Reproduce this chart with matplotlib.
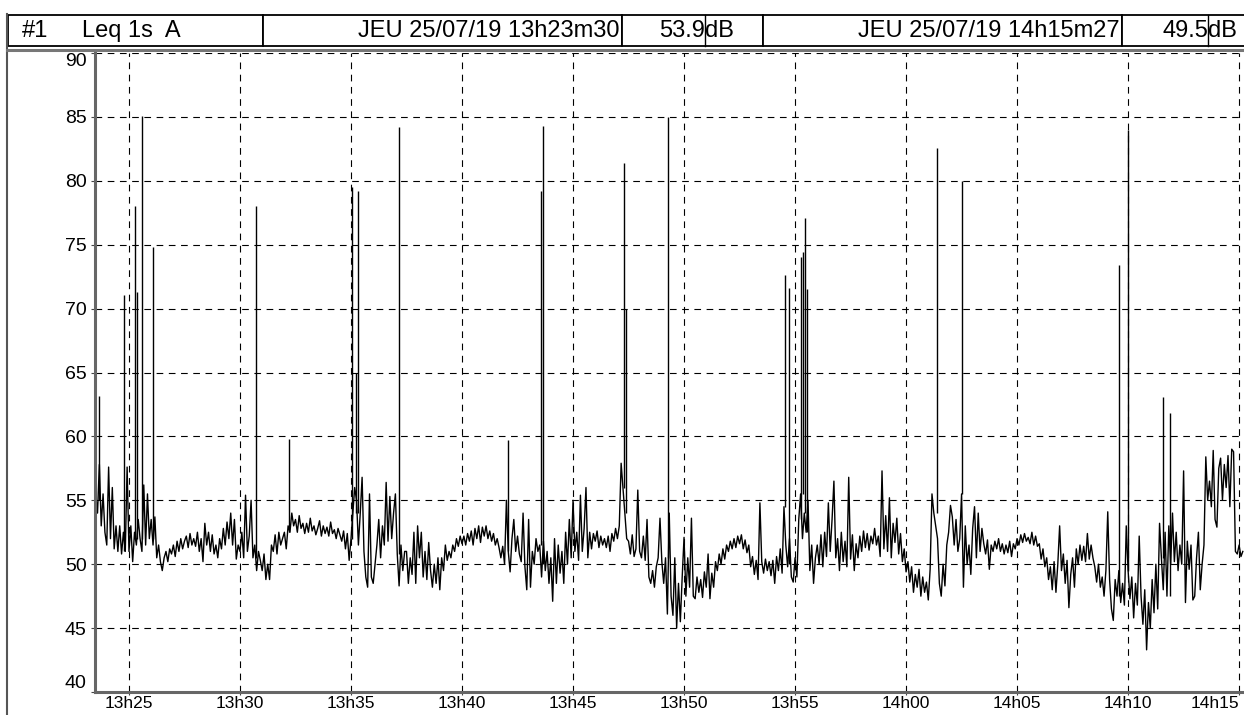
import numpy as np
import matplotlib.pyplot as plt
from matplotlib.patches import Rectangle
from matplotlib.lines import Line2D

# Leq 1s A, time in minutes after 13h00, one value every 5 s from 13h23m30
t_start = 23.5
t_step = 5 / 60.0
leq = [
    55.5, 54.0, 57.8, 53.0, 55.5, 52.5,  # 13h23m30
    51.5, 57.6, 52.0, 56.0, 51.2, 53.0,
    51.0, 53.0, 50.8, 52.5, 51.0, 57.6,
    51.0, 53.0, 50.2, 52.5, 51.5, 53.5,  # 13h25
    52.0, 51.0, 56.2, 51.5, 55.5, 52.0,
    53.5, 51.5, 53.7, 50.5, 51.5, 50.2,
    49.5, 50.5, 51.0, 50.2, 51.2, 50.8,
    51.5, 50.6, 51.8, 51.0, 52.0, 51.2,  # 13h27
    51.8, 52.2, 51.3, 52.4, 51.5, 52.0,
    51.4, 52.5, 51.0, 52.0, 50.2, 53.2,
    51.5, 52.5, 51.0, 52.3, 50.8, 51.5,
    50.5, 52.0, 51.2, 52.8, 51.5, 53.3,  # 13h29
    52.0, 54.0, 51.5, 53.5, 50.4, 51.5,
    51.0, 52.5, 50.5, 55.4, 51.0, 52.2,
    55.0, 50.5, 51.5, 49.5, 51.0, 50.3,
    49.5, 50.8, 48.8, 50.0, 48.8, 51.5,  # 13h31
    51.0, 52.3, 50.8, 52.5, 51.5, 52.0,
    52.5, 51.2, 53.0, 52.5, 54.0, 53.0,
    53.5, 52.5, 53.8, 52.8, 53.2, 52.4,
    53.2, 52.5, 53.6, 52.6, 53.0, 52.3,  # 13h33
    52.8, 53.4, 52.2, 53.0, 52.4, 52.9,
    52.2, 53.3, 52.4, 52.7, 52.0, 52.8,
    52.3, 51.8, 52.6, 51.2, 52.4, 50.3,
    52.0, 54.0, 56.0, 55.0, 51.5, 54.0,  # 13h35
    56.8, 51.0, 49.0, 48.2, 55.5, 49.0,
    48.5, 50.0, 51.5, 53.5, 50.5, 53.0,
    51.5, 56.4, 51.8, 55.3, 52.0, 54.0,
    55.5, 50.8, 48.3, 51.5, 49.5, 51.0,  # 13h37
    51.0, 48.5, 50.5, 49.2, 52.5, 48.5,
    53.0, 50.5, 52.5, 49.0, 51.0, 48.8,
    51.7, 49.5, 48.2, 50.0, 48.5, 50.5,
    48.0, 50.5, 49.5, 51.5, 50.3, 51.0,  # 13h39
    50.5, 51.5, 51.0, 52.0, 51.4, 52.2,
    51.6, 52.2, 51.5, 52.4, 51.8, 52.6,
    51.5, 52.8, 52.0, 53.0, 51.7, 52.9,
    52.2, 53.0, 52.0, 52.6, 51.8, 52.4,  # 13h41
    51.5, 52.0, 51.3, 50.5, 51.4, 50.0,
    55.0, 51.0, 49.4, 52.0, 53.5, 51.0,
    52.2, 50.8, 50.2, 54.0, 49.8, 48.0,
    53.5, 48.2, 51.0, 50.0, 52.0, 51.0,  # 13h43
    51.5, 49.0, 51.8, 49.5, 51.0, 48.5,
    50.5, 47.1, 52.0, 48.5, 51.5, 49.3,
    51.0, 48.5, 52.5, 50.0, 53.5, 50.5,
    55.0, 51.0, 52.5, 50.3, 55.4, 51.0,  # 13h45
    52.8, 56.0, 50.5, 52.5, 51.2, 52.4,
    51.8, 52.6, 51.3, 52.2, 51.5, 52.0,
    51.3, 52.2, 51.0, 52.4, 51.8, 52.8,
    52.0, 53.0, 57.9, 56.0, 54.0, 52.0,  # 13h47
    51.8, 50.8, 52.3, 50.6, 51.2, 55.8,
    51.0, 50.5, 52.2, 50.3, 53.5, 49.0,
    48.5, 49.5, 48.2, 49.8, 50.5, 53.6,
    50.2, 48.5, 50.5, 46.1, 54.0, 47.5,  # 13h49
    46.0, 50.5, 45.0, 48.5, 45.5, 49.0,
    52.1, 47.5, 50.5, 48.2, 53.6, 47.5,
    47.3, 49.0, 47.8, 48.8, 47.4, 49.4,
    48.2, 50.8, 47.3, 49.3, 48.2, 50.2,  # 13h51
    49.5, 50.8, 50.0, 51.2, 50.4, 51.5,
    51.0, 51.8, 51.2, 52.0, 51.3, 52.2,
    51.6, 52.3, 51.2, 51.9, 50.9, 51.5,
    49.8, 50.6, 49.2, 50.3, 48.8, 54.8,  # 13h53
    50.2, 49.3, 50.4, 49.5, 50.2, 49.1,
    50.3, 48.5, 50.6, 49.5, 51.2, 49.3,
    54.5, 51.5, 49.8, 52.0, 49.0, 48.6,
    50.5, 49.0, 53.5, 55.5, 52.0, 54.0,  # 13h55
    52.5, 55.0, 49.5, 51.5, 48.5, 50.5,
    51.5, 50.0, 52.3, 49.8, 52.5, 50.6,
    54.8, 51.0, 53.5, 56.5, 50.5, 52.0,
    49.5, 52.5, 50.2, 51.8, 49.8, 56.8,  # 13h57
    50.4, 52.3, 49.5, 51.6, 50.5, 52.2,
    51.0, 52.6, 51.3, 52.4, 51.1, 52.2,
    51.6, 52.8, 51.5, 52.2, 50.6, 57.3,
    51.2, 53.8, 51.0, 55.2, 50.5, 53.2,  # 13h59
    51.7, 53.6, 50.8, 52.4, 50.2, 51.2,
    49.4, 50.2, 48.6, 49.8, 47.8, 49.2,
    48.2, 49.6, 47.5, 49.0, 47.8, 48.6,
    47.2, 49.6, 55.5, 54.0, 53.0, 52.0,  # 14h01
    48.5, 47.5, 50.0, 48.3, 51.5, 52.5,
    54.6, 53.7, 51.5, 53.5, 51.0, 52.0,
    55.5, 48.2, 53.0, 50.0, 51.5, 49.2,
    52.8, 54.5, 50.5, 54.0, 51.0, 52.8,  # 14h03
    51.6, 50.8, 51.9, 49.6, 51.5, 51.0,
    51.8, 51.2, 52.0, 51.0, 51.6, 50.8,
    51.5, 50.9, 51.8, 50.6, 51.6, 51.2,
    52.0, 51.5, 52.3, 51.7, 52.4, 51.8,  # 14h05
    52.1, 51.6, 52.5, 51.5, 52.2, 51.4,
    51.6, 50.4, 51.2, 49.8, 50.5, 48.8,
    49.8, 48.0, 50.2, 47.8, 50.0, 53.0,
    49.5, 50.8, 48.5, 50.3, 46.6, 49.2,  # 14h07
    50.5, 48.2, 51.2, 50.0, 51.5, 50.3,
    51.4, 50.2, 52.4, 50.4, 51.5, 50.5,
    49.8, 48.6, 50.0, 48.2, 49.0, 47.5,
    49.5, 54.1, 48.8, 46.5, 45.6, 48.8,  # 14h09
    47.5, 49.5, 47.0, 48.5, 46.8, 53.0,
    49.5, 47.3, 49.0, 45.8, 48.5, 46.8,
    52.2, 47.5, 45.3, 48.0, 43.3, 47.0,
    45.0, 48.8, 46.2, 50.0, 46.5, 53.2,  # 14h11
    50.5, 48.0, 52.5, 47.5, 53.0, 50.0,
    54.0, 50.2, 52.5, 49.5, 51.5, 50.0,
    57.3, 47.0, 51.8, 49.6, 51.5, 47.2,
    47.5, 50.5, 52.5, 48.0, 50.0, 51.5,  # 14h13
    58.4, 55.0, 56.5, 54.5, 58.9, 53.5,
    52.9, 57.5, 58.3, 55.0, 57.8, 56.0,
    58.5, 54.5, 59.0, 58.8, 51.0, 50.8,
    51.5, 50.6, 51.0,                    # 14h15
]

# short events (single seconds) drawn as spikes
spike_t = [23.65, 24.775, 25.27, 25.36, 25.585, 26.08, 30.72, 32.21, 35.045, 35.225,
           35.315, 37.16, 42.07, 43.56, 43.65, 47.30, 47.39, 49.28, 54.55, 54.73,
           55.27, 55.36, 55.45, 55.54, 61.40, 62.52, 69.59, 70.0, 71.58, 71.9]
spike_peak = [63.2, 71.1, 78.0, 71.3, 85.1, 74.8, 78.0, 59.8, 79.5, 65.0,
              79.2, 84.2, 59.7, 79.2, 84.3, 81.4, 70.0, 85.0, 72.6, 71.6,
              74.0, 74.4, 77.1, 71.5, 82.6, 80.0, 73.4, 84.0, 63.1, 61.8]
spike_foot = [55.0, 51.0, 52.0, 52.0, 52.0, 52.0, 50.5, 52.5, 52.0, 54.0,
              54.0, 50.8, 51.0, 51.5, 50.0, 56.0, 54.0, 50.5, 54.5, 50.0,
              53.5, 55.5, 54.0, 52.5, 54.0, 55.5, 47.5, 49.5, 50.5, 47.5]

tick_min = [25, 30, 35, 40, 45, 50, 55, 60, 65, 70, 75]
tick_lab = ["13h25", "13h30", "13h35", "13h40", "13h45", "13h50",
            "13h55", "14h00", "14h05", "14h10", "14h15"]
db_ticks = [40, 45, 50, 55, 60, 65, 70, 75, 80, 85, 90]

plt.rcParams['font.family'] = ['Liberation Sans', 'DejaVu Sans']

W, H = 1244, 715
fig = plt.figure(figsize=(W / 100, H / 100), dpi=100)


def fx(x):
    return x / W


def fy(y):
    return 1 - y / H


ax = fig.add_axes([fx(95), fy(692), fx(1244 - 95), (692 - 53) / H])
t = t_start + np.arange(len(leq)) * t_step
ax.plot(t, leq, color='black', lw=1.0)
ax.vlines(spike_t, spike_foot, spike_peak, color='black', lw=1.0)

ax.set_xlim(23.47, 75.22)
ax.set_ylim(40, 90)
ax.set_xticks(tick_min)
ax.set_xticklabels(tick_lab)
ax.set_yticks(db_ticks)
ax.tick_params(axis='y', labelsize=14, length=3, color='#444', pad=3)
ax.tick_params(axis='x', labelsize=12.5, length=2, color='#444', pad=1)
ax.grid(True, color='black', lw=0.8, linestyle=(0, (6, 5)))
for s in ['top', 'right']:
    ax.spines[s].set_visible(False)
for s in ['left', 'bottom']:
    ax.spines[s].set_linewidth(2.2)
    ax.spines[s].set_color('#666')
ylabs = ax.get_yticklabels()
ylabs[-1].set_va('top')
ylabs[0].set_va('bottom')
ax.get_xticklabels()[-1].set_ha('right')

# header bar
fig.add_artist(Line2D([fx(7), fx(7)], [fy(14), 0], color='#555', lw=1.5))
fig.add_artist(Line2D([fx(7), 1], [fy(50), fy(50)], color='#777', lw=2.2))
boxes = [(8, 263), (263, 622), (622, 763), (763, 1122), (1122, 1250)]
for x0, x1 in boxes:
    fig.add_artist(Rectangle((fx(x0), fy(46)), fx(x1 - x0), (46 - 15) / H,
                             facecolor='white', edgecolor='black', lw=1.3))
for xd in [705, 1208]:
    fig.add_artist(Line2D([fx(xd), fx(xd)], [fy(46), fy(15)], color='black', lw=1.0))

hy = fy(31)
fs = 17
fig.text(fx(22), hy, "#1", fontsize=fs, va='center', ha='left')
fig.text(fx(82), hy, "Leq 1s  A", fontsize=fs, va='center', ha='left')
fig.text(fx(620), hy, "JEU 25/07/19 13h23m30", fontsize=fs, va='center', ha='right')
fig.text(fx(705), hy, "53.9", fontsize=fs, va='center', ha='right')
fig.text(fx(705), hy, "dB", fontsize=fs, va='center', ha='left')
fig.text(fx(1120), hy, "JEU 25/07/19 14h15m27", fontsize=fs, va='center', ha='right')
fig.text(fx(1208), hy, "49.5", fontsize=fs, va='center', ha='right')
fig.text(fx(1208), hy, "dB", fontsize=fs, va='center', ha='left')

fig.savefig("out.png", dpi=100)
